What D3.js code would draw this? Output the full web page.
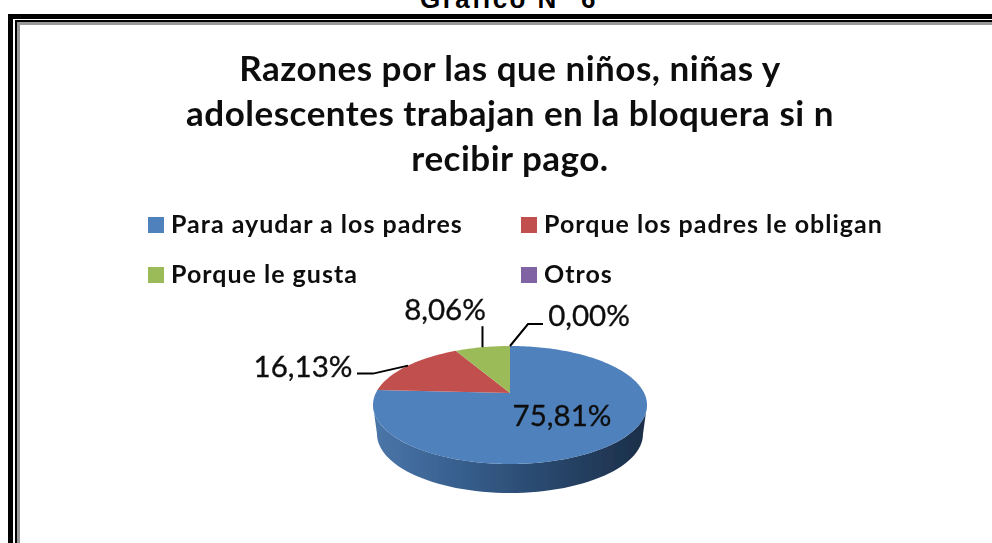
<!DOCTYPE html>
<html><head><meta charset="utf-8">
<script src="https://cdn.jsdelivr.net/npm/d3@7/dist/d3.min.js"></script>
<style>html,body{margin:0;padding:0;background:#fff;overflow:hidden}svg{display:block}</style>
</head><body><svg id="c" width="992" height="543"></svg>
<script>
const categories = ["Para ayudar a los padres","Porque los padres le obligan","Porque le gusta","Otros"];
const values = [75.81,16.13,8.06,0.00];
const colors = ["#4f81bd","#c0504d","#9bbb59","#8064a2"];
const labels = ["75,81%","16,13%","8,06%","0,00%"];
const titleLines = ["Razones por las que niños, niñas y","adolescentes trabajan en la bloquera si n","recibir pago."];
const heading = "Gráfico N° 6";

const svg = d3.select("#c");
const defs = svg.append("defs");
const blur = defs.append("filter").attr("id","soft").attr("x","-5%").attr("y","-5%").attr("width","110%").attr("height","110%");
blur.append("feGaussianBlur").attr("stdDeviation",0.55);
const grad = defs.append("linearGradient").attr("id","wall");
[[0,"#4a76a8"],[0.3,"#38608f"],[0.6,"#2a4a70"],[1,"#1b2e48"]].forEach(s=>grad.append("stop").attr("offset",s[0]).attr("stop-color",s[1]));

// frame
const frame = svg.append("g");
frame.append("path").attr("d","M10.5 543V16.5H992").attr("fill","none").attr("stroke","#000").attr("stroke-width",5);
frame.append("path").attr("d","M16 543V21H992").attr("fill","none").attr("stroke","#000").attr("stroke-width",2);
frame.append("path").attr("d","M18.5 543V23.5H992").attr("fill","none").attr("stroke","#999").attr("stroke-width",3);

svg.append("text").text(heading).attr("x",509).attr("y",8).attr("text-anchor","middle")
  .attr("font-family","Liberation Sans").attr("font-weight",700).attr("font-size",26).attr("letter-spacing",2.4).attr("fill","#000");

const g = svg.append("g").attr("filter","url(#soft)");
const font = "Lato";
g.selectAll("text.t").data(titleLines).join("text").attr("class","t").text(d=>d)
  .attr("x",510).attr("y",(d,i)=>81+i*45).attr("text-anchor","middle")
  .attr("font-family",font).attr("font-weight",700).attr("font-size",35).attr("letter-spacing",0.5).attr("fill","#111");

// legend
const legX = d3.scaleOrdinal([0,1],[148,521]);
const legY = d3.scaleOrdinal([0,1],[225,275]);
const leg = g.selectAll("g.l").data(categories).join("g").attr("class","l")
  .attr("transform",(d,i)=>`translate(${legX(i%2)},${legY(Math.floor(i/2))})`);
leg.append("rect").attr("x",0).attr("y",-8).attr("width",16).attr("height",16).attr("fill",(d,i)=>colors[i]);
leg.append("text").text(d=>d).attr("x",23).attr("y",8)
  .attr("font-family",font).attr("font-weight",700).attr("font-size",25).attr("letter-spacing",1).attr("fill","#111");

// pie
const cx=510, cy=405, rx=137, ry=59, apexDy=-12, depth=29, rxB=133;
const pie = d3.pie().sort(null).value(d=>d)(values);
function rim(a){ // ray from the perspective apex to the top ellipse
  const dx=Math.sin(a)*rx, dy=-Math.cos(a)*ry;
  const A=dx*dx/(rx*rx)+dy*dy/(ry*ry), B=2*dy*apexDy/(ry*ry), C=apexDy*apexDy/(ry*ry)-1;
  const t=(-B+Math.sqrt(B*B-4*A*C))/(2*A);
  return [cx+dx*t, cy+apexDy+dy*t];
}
function param(p){ return Math.atan2((p[0]-cx)/rx, -(p[1]-cy)/ry); }
const apex=[cx,cy+apexDy];
// wall
const lowerTop = d3.range(0,181,3).map(d=>{const a=d*Math.PI/180;return [cx-rx*Math.cos(a),cy+ry*Math.sin(a)];});
const lowerBot = d3.range(180,-1,-3).map(d=>{const a=d*Math.PI/180;return [cx-rxB*Math.cos(a),cy+depth+ry*Math.sin(a)];});
g.append("path").attr("d",d3.line()(lowerTop.concat(lowerBot))+"Z").attr("fill","url(#wall)");
// top slices
function slicePath(d){
  const p0=param(rim(d.startAngle)); let p1=param(rim(d.endAngle));
  let s=p0, e=p1; while(e<s) e+=2*Math.PI;
  if(d.endAngle-d.startAngle<1e-6) e=s;
  const n=Math.max(2,Math.ceil((e-s)/0.02));
  const pts=d3.range(n+1).map(i=>{const t=s+(e-s)*i/n;return [cx+rx*Math.sin(t),cy-ry*Math.cos(t)];});
  return d3.line()([apex].concat(pts))+"Z";
}
g.selectAll("path.s").data(pie).join("path").attr("class","s").attr("d",slicePath).attr("fill",(d,i)=>colors[i]);

// leaders and labels
const leaderBends=[null,[[-35,8],[-51,8]],[[0,-21]],[[18,-22],[33,-22]]];
const labelAt=[[562,416],[303,367],[445,310],[589,316]];
pie.forEach((d,i)=>{
  if(leaderBends[i]){
    const mid=(d.startAngle+d.endAngle)/2, p=rim(mid);
    g.append("path").attr("d",d3.line()([p].concat(leaderBends[i].map(b=>[p[0]+b[0],p[1]+b[1]]))))
      .attr("fill","none").attr("stroke","#000").attr("stroke-width",2);
  }
  g.append("text").text(labels[i]).attr("x",labelAt[i][0]).attr("y",labelAt[i][1]+10).attr("text-anchor","middle")
    .attr("font-family",font).attr("font-weight",400).attr("font-size",29.5)
    .attr("stroke","#111").attr("stroke-width",0.35).attr("fill","#111");
});
</script></body></html>
